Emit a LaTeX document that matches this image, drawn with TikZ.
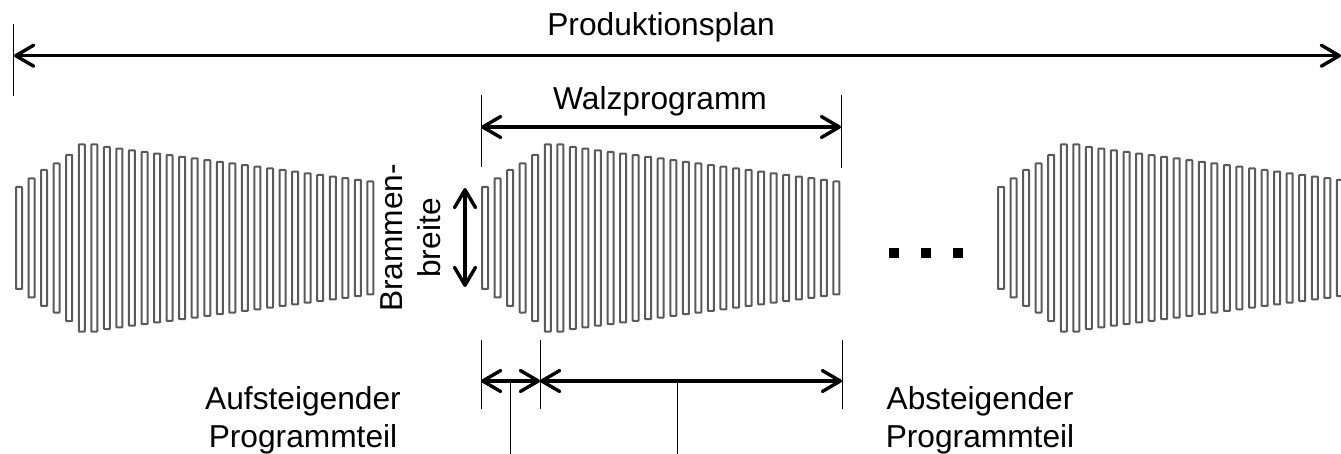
\documentclass[tikz,border=0pt]{standalone}
\usepackage{fontspec}
\setmainfont{Liberation Sans}
\usetikzlibrary{arrows.meta}
\definecolor{bargray}{HTML}{5A5A5A}
\tikzset{
  barb/.tip={Straight Barb[length=18pt,width=21pt,round]},
  dim/.style={line width=3.4pt, barb-barb},
  tick/.style={line width=1pt, black},
  slab/.style={draw=bargray, line width=2pt, fill=white, rounded corners=0.6pt},
  lbl/.style={inner sep=0pt, font=\fontsize{31.7pt}{38pt}\selectfont, align=center},
  dot/.style={fill=black, minimum size=10pt, inner sep=0pt},
}
\begin{document}
\begin{tikzpicture}[x=1pt,y=-1pt]
\useasboundingbox (0,0) rectangle (1341,454);
\clip (0,0) rectangle (1341,454);
% slabs
\foreach \gx in {15,481,997}{
  \foreach \h [count=\i from 0] in {104,121,138,151,168,189,189,184,180.7,177.4,174.1,170.8,167.6,164.3,161,157.7,154.4,151.1,147.9,144.6,141.3,138,134.7,131.4,128.1,124.9,121.6,118.3,115}{
    \pgfmathsetmacro\xl{\gx+12.55*\i+1}
    \draw[slab] (\xl,{238-\h/2+1}) rectangle ({\xl+6},{238+\h/2-1});
  }
}
% coordinates
\coordinate (pL) at (14,55.7);
\coordinate (pR) at (1341,55.7);
\coordinate (pT1) at (13.3,24);
\coordinate (pT2) at (13.3,96);
\coordinate (wL) at (481,127);
\coordinate (wR) at (841,127);
\coordinate (wT1) at (481,95);
\coordinate (wT2) at (481,167);
\coordinate (wT3) at (841,95);
\coordinate (wT4) at (841,168);
\coordinate (bT) at (465,188);
\coordinate (bB) at (465,287);
\coordinate (a1) at (481,381);
\coordinate (a2) at (540,381);
\coordinate (a3) at (842,381);
\coordinate (t1a) at (481,340);
\coordinate (t1b) at (481,409);
\coordinate (t2a) at (540,340);
\coordinate (t2b) at (540,409);
\coordinate (t3a) at (842,340);
\coordinate (t3b) at (842,409);
\coordinate (l1a) at (510,381);
\coordinate (l1b) at (510,454);
\coordinate (l2a) at (677,381);
\coordinate (l2b) at (677,454);
% ticks and leaders
\draw[tick] (pT1) -- (pT2);
\draw[tick] (wT1) -- (wT2);
\draw[tick] (wT3) -- (wT4);
\draw[tick] (t1a) -- (t1b);
\draw[tick] (t2a) -- (t2b);
\draw[tick] (t3a) -- (t3b);
\draw[tick] (l1a) -- (l1b);
\draw[tick] (l2a) -- (l2b);
% dimension arrows
\draw[dim] (pL) -- (pR);
\draw[dim] (wL) -- (wR);
\draw[dim] (bT) -- (bB);
\draw[dim] (a1) -- (a2);
\draw[dim] (a2) -- (a3);
% labels
\node[lbl, anchor=base] (prod) at (661,36) {Produktionsplan};
\node[lbl, anchor=base] (walz) at (660,110) {Walzprogramm};
\node[lbl, rotate=90] (bb) at (411,238) {Brammen-\\breite};
\node[lbl] (auf) at (303,420) {Aufsteigender\\Programmteil};
\node[lbl] (ab) at (980,420) {Absteigender\\Programmteil};
% dots
\node[dot] (d1) at (894,253) {};
\node[dot] (d2) at (926,253) {};
\node[dot] (d3) at (958,253) {};
\end{tikzpicture}
\end{document}
